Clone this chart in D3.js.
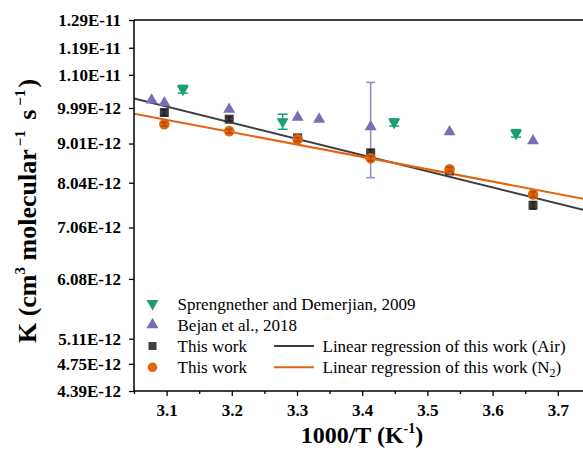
<!DOCTYPE html>
<html><head><meta charset="utf-8">
<script src="https://cdn.jsdelivr.net/npm/d3@7"></script>
<style>body{margin:0;background:#fff}svg{display:block}</style>
</head><body>
<script>
// ---- data ----
const xTicks = [3.1, 3.2, 3.3, 3.4, 3.5, 3.6, 3.7];
const xMinorTicks = [3.05, 3.15, 3.25, 3.35, 3.45, 3.55, 3.65];
const yTicks = [1.29e-11, 1.19e-11, 1.10e-11, 9.99e-12, 9.01e-12, 8.04e-12, 7.06e-12, 6.08e-12, 5.11e-12, 4.75e-12, 4.39e-12];
const yTickLabels = ["1.29E-11","1.19E-11","1.10E-11","9.99E-12","9.01E-12","8.04E-12","7.06E-12","6.08E-12","5.11E-12","4.75E-12","4.39E-12"];

// values in units of 1e-12 cm3 molecule-1 s-1
const spreX = [3.125, 3.278, 3.449, 3.636];
const spreK = [10.55, 9.60, 9.58, 9.28];
const spreErr = [0.12, 0.21, 0.10, 0.10];

const bejanX = [3.077, 3.0965, 3.196, 3.301, 3.334, 3.413, 3.534, 3.662];
const bejanK = [10.22, 10.14, 9.95, 9.72, 9.67, 9.46, 9.32, 9.08];
const bejanErr = [0, 0, 0, 0, 0, 1.30, 0, 0];

const workX = [3.0965, 3.196, 3.301, 3.413, 3.534, 3.662];
const airK = [9.86, 9.67, 9.16, 8.77, 8.32, 7.53];
const airErr = [0.08, 0.06, 0.06, 0.08, 0.06, 0.08];
const n2K = [9.53, 9.34, 9.12, 8.63, 8.36, 7.77];
const n2Err = [0.05, 0.05, 0.05, 0.06, 0.05, 0.06];

const legendLabels = ["Sprengnether and Demerjian, 2009", "Bejan et al., 2018", "This work", "This work"];

// ---- colours ----
const cGreen = "#1b9e77", cPurple = "#7570b3", cDark = "#3d3d3d", cOrange = "#e3640f";

const W = 583, H = 462;
const svg = d3.select("body").append("svg").attr("width", W).attr("height", H);
const x = d3.scaleLinear().domain([3.05, 3.75]).range([134, 590.4]);
const y = d3.scaleLog().domain([4.39e-12, 1.29e-11]).range([391, 20]);
const Y = v => y(v * 1e-12);

const font = "'Liberation Serif','Times New Roman',serif";

svg.append("defs").append("clipPath").attr("id", "clip")
  .append("rect").attr("x", 134).attr("y", 20).attr("width", W - 134).attr("height", 371);

// regression of ln K on 1000/T
function fit(xs, ks) {
  const ls = ks.map(k => Math.log(k));
  const mx = d3.mean(xs), my = d3.mean(ls);
  let sxy = 0, sxx = 0;
  xs.forEach((xv, i) => { sxy += (xv - mx) * (ls[i] - my); sxx += (xv - mx) ** 2; });
  const b = sxy / sxx, a = my - b * mx;
  return xv => Math.exp(a + b * xv);
}
const fitAir = fit(workX, airK), fitN2 = fit(workX, n2K);
const lineX = x.domain();
const lineGen = f => d3.line().x(d => x(d)).y(d => Y(f(d)))(lineX);

const plot = svg.append("g").attr("clip-path", "url(#clip)");
plot.append("path").attr("d", lineGen(fitAir)).attr("stroke", cDark).attr("stroke-width", 2).attr("fill", "none");
plot.append("path").attr("d", lineGen(fitN2)).attr("stroke", cOrange).attr("stroke-width", 2).attr("fill", "none");

// error bars
function errBars(xs, ks, es, color, cap) {
  xs.forEach((xv, i) => {
    if (!es[i]) return;
    const cx = x(xv), y1 = Y(ks[i] + es[i]), y2 = Y(ks[i] - es[i]);
    const g = plot.append("g").attr("stroke", color).attr("stroke-width", 1.5);
    g.append("line").attr("x1", cx).attr("x2", cx).attr("y1", y1).attr("y2", y2);
    g.append("line").attr("x1", cx - cap).attr("x2", cx + cap).attr("y1", y1).attr("y2", y1);
    g.append("line").attr("x1", cx - cap).attr("x2", cx + cap).attr("y1", y2).attr("y2", y2);
  });
}

const triUp = d3.symbol().type(d3.symbolTriangle).size(62)();
const triDown = triUp;
function markers(xs, ks, path, color, rot) {
  xs.forEach((xv, i) => {
    plot.append("path").attr("d", path)
      .attr("transform", `translate(${x(xv)},${Y(ks[i])})${rot ? " rotate(180)" : ""}`)
      .attr("fill", color);
  });
}

errBars(spreX, spreK, spreErr, cGreen, 5);
markers(spreX, spreK, triDown, cGreen, true);
errBars(bejanX, bejanK, bejanErr, "#8f8bc8", 4.5);
markers(bejanX, bejanK, triUp, cPurple, false);
// squares
workX.forEach((xv, i) => {
  plot.append("rect").attr("x", x(xv) - 4.5).attr("y", Y(airK[i]) - 4.5)
    .attr("width", 9).attr("height", 9).attr("fill", cDark);
});
errBars(workX, airK, airErr, "#222", 3);
// circles
workX.forEach((xv, i) => {
  plot.append("circle").attr("cx", x(xv)).attr("cy", Y(n2K[i])).attr("r", 5.3).attr("fill", cOrange);
});
errBars(workX, n2K, n2Err, "#b04a05", 3);

// ---- axes ----
const xAxis = svg.append("g").attr("transform", "translate(0,391)")
  .call(d3.axisBottom(x).tickValues(xTicks).tickSize(5).tickPadding(8).tickFormat(d3.format(".1f")));
xAxis.select(".domain").remove();
xAxis.selectAll("line").attr("stroke", "#000").attr("stroke-width", 1.3);
xAxis.selectAll("text").attr("font-family", font).attr("font-weight", "bold").attr("font-size", 17).attr("fill", "#000");
const xMinor = svg.append("g").attr("transform", "translate(0,391)")
  .call(d3.axisBottom(x).tickValues(xMinorTicks).tickSize(3).tickFormat(""));
xMinor.select(".domain").remove();
xMinor.selectAll("line").attr("stroke", "#000").attr("stroke-width", 1.3);

const yAxis = svg.append("g").attr("transform", "translate(134,0)")
  .call(d3.axisLeft(y).tickValues(yTicks).tickSize(5).tickPadding(8).tickFormat((d, i) => yTickLabels[i]));
yAxis.select(".domain").remove();
yAxis.selectAll("line").attr("stroke", "#000").attr("stroke-width", 1.3);
yAxis.selectAll("text").attr("font-family", font).attr("font-weight", "bold").attr("font-size", 17).attr("fill", "#000");

// frame lines
svg.append("line").attr("x1", 134).attr("x2", W).attr("y1", 20).attr("y2", 20).attr("stroke", "#000").attr("stroke-width", 1.5);
svg.append("line").attr("x1", 134).attr("x2", W).attr("y1", 391).attr("y2", 391).attr("stroke", "#000").attr("stroke-width", 1.5);
svg.append("line").attr("x1", 134).attr("x2", 134).attr("y1", 20).attr("y2", 391.7).attr("stroke", "#000").attr("stroke-width", 1.5);

// ---- titles ----
const xt = svg.append("text").attr("x", 362).attr("y", 443).attr("text-anchor", "middle")
  .attr("font-family", font).attr("font-weight", "bold").attr("font-size", 24);
xt.append("tspan").text("1000/T (K");
xt.append("tspan").attr("font-size", 14).attr("dy", -10).text("-1");
xt.append("tspan").attr("dy", 10).text(")");

const yt = svg.append("text").attr("transform", "translate(36,211) rotate(-90)").attr("text-anchor", "middle")
  .attr("font-family", font).attr("font-weight", "bold").attr("font-size", 26);
yt.append("tspan").text("K (cm");
yt.append("tspan").attr("font-size", 15).attr("dy", -11).text("3");
yt.append("tspan").attr("dy", 11).text(" molecular");
yt.append("tspan").attr("font-size", 15).attr("dy", -11).attr("dx", 3).text("\u22121");
yt.append("tspan").attr("dy", 11).attr("dx", 4).text(" s");
yt.append("tspan").attr("font-size", 15).attr("dy", -11).attr("dx", 4).text("\u22121");
yt.append("tspan").attr("dy", 11).attr("dx", 2).text(")");

// ---- legend ----
const rows = [303.5, 324.8, 346, 367.3];
const lg = svg.append("g").attr("font-family", font).attr("font-size", 17);
lg.append("path").attr("d", triDown).attr("transform", `translate(152.5,${rows[0]}) rotate(180)`).attr("fill", cGreen);
lg.append("path").attr("d", triUp).attr("transform", `translate(152.5,${rows[1]})`).attr("fill", cPurple);
lg.append("rect").attr("x", 148.5).attr("y", rows[2] - 4).attr("width", 8).attr("height", 8).attr("fill", cDark);
lg.append("circle").attr("cx", 152.5).attr("cy", rows[3]).attr("r", 4.8).attr("fill", cOrange);
legendLabels.forEach((t, i) => {
  lg.append("text").attr("x", 177.5).attr("y", rows[i] + 6).text(t);
});
lg.append("line").attr("x1", 274).attr("x2", 314).attr("y1", rows[2]).attr("y2", rows[2]).attr("stroke", cDark).attr("stroke-width", 2);
lg.append("line").attr("x1", 274).attr("x2", 314).attr("y1", rows[3]).attr("y2", rows[3]).attr("stroke", cOrange).attr("stroke-width", 2);
lg.append("text").attr("x", 322.5).attr("y", rows[2] + 6).text("Linear regression of this work (Air)");
const l2 = lg.append("text").attr("x", 322.5).attr("y", rows[3] + 6);
l2.append("tspan").text("Linear regression of this work (N");
l2.append("tspan").attr("font-size", 12).attr("dy", 4).text("2");
l2.append("tspan").attr("dy", -4).text(")");
</script>
</body></html>
